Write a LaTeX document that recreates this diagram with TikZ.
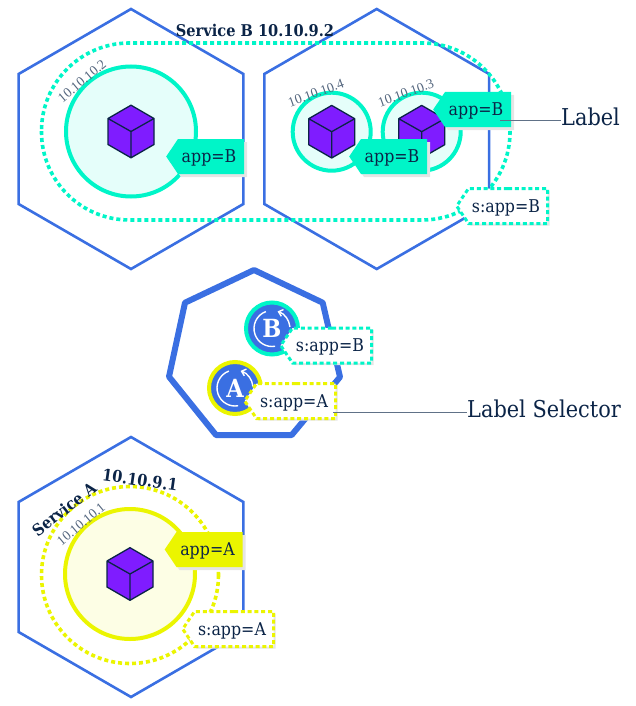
\documentclass[tikz,border=0pt]{standalone}
\usepackage{fontspec}
\setmainfont[FakeStretch=0.9]{DejaVu Serif}
\newfontfamily\ipfont{Liberation Serif}
\usepackage{tikz}
\usetikzlibrary{shapes.symbols,shadows,arrows.meta}
\definecolor{navy}{HTML}{0B2447}
\definecolor{kblue}{HTML}{3A6FE2}
\definecolor{kteal}{HTML}{00F5C8}
\definecolor{kyellow}{HTML}{EBF500}
\definecolor{kpurple}{HTML}{7F1CFF}
\tikzset{
  hexagon/.style={draw=kblue,line width=2.6pt,line join=miter},
  selectline/.style={line width=3.6pt,dash pattern=on 4pt off 3pt},
  pod/.style={circle,line width=4pt,minimum size=#1,inner sep=0pt},
  cubeline/.style={draw=navy,line width=1.3pt,line join=round},
  tag/.style={signal,signal to=west,signal from=nowhere,signal pointer angle=112,
    font=\fontsize{17.6}{17.6}\selectfont\color{navy},inner sep=0pt,
    minimum height=35pt,align=center,text height=12.8pt,text depth=0pt,
    execute at begin node=\hspace*{-4pt}},
  apptag/.style={tag,text width=66pt,fill=#1,copy shadow={shadow xshift=3pt,shadow yshift=-3pt,fill=black!10,draw=none}},
  seltag/.style={tag,text width=79pt,fill=white,draw=#1,line width=3pt,dash pattern=on 4pt off 2.8pt,
    copy shadow={shadow xshift=2pt,shadow yshift=-2pt,fill=black!10,draw=none}},
  iptext/.style={font=\ipfont\fontsize{13.7}{13.7}\selectfont,text=navy!70,inner sep=0pt},
  svctext/.style={font=\fontsize{16.2}{16.2}\selectfont\bfseries,text=navy,inner sep=0pt},
  calltext/.style={font=\fontsize{23.2}{23.2}\selectfont,text=navy,inner sep=0pt},
  deppod/.style={circle,fill=kblue,draw=#1,line width=4pt,minimum size=52pt,inner sep=0pt,
    font=\fontsize{25}{25}\selectfont\bfseries,text=white},
  leader/.style={draw=navy!65,line width=.7pt},
}
\begin{document}
\begin{tikzpicture}[x=1pt,y=-1pt]
  \useasboundingbox (0,0) rectangle (635,706);
  % hexagons
  \foreach \cx/\cy in {131/139, 376.7/139, 131/567}
    \draw[hexagon] (\cx,\cy-130) -- (\cx+112.4,\cy-65) -- (\cx+112.4,\cy+65) -- (\cx,\cy+130)
      -- (\cx-112.4,\cy+65) -- (\cx-112.4,\cy-65) -- cycle;
  % selector paths
  \draw[selectline,draw=kteal,rounded corners=88pt] (41.5,43) rectangle (510,220);
  \draw[selectline,draw=kyellow] (130,575) circle (88.5);
  % pods
  \node[pod=130pt,draw=kteal,fill=kteal!10] (podtwo) at (131,131.5) {};
  \node[pod=78pt,draw=kteal,fill=kteal!10] (podfour) at (331.7,131.7) {};
  \node[pod=78pt,draw=kteal,fill=kteal!10] (podthree) at (421.7,131.7) {};
  \node[pod=130pt,draw=kyellow,fill=kyellow!10] (podone) at (130,574) {};
  \foreach \p in {podtwo,podfour,podthree,podone} {
    \fill[kpurple,shift={(\p.center)}] (0,-26.3) -- (23,-13) -- (23,13) -- (0,26.3) -- (-23,13) -- (-23,-13) -- cycle;
    \draw[cubeline,shift={(\p.center)}] (0,-26.3) -- (23,-13) -- (23,13) -- (0,26.3)
      -- (-23,13) -- (-23,-13) -- cycle (-23,-13) -- (0,0) -- (23,-13) (0,0) -- (0,26.3);
  }
  % pod labels
  \node[iptext,rotate=40] (iptwo) at (82,81) {10.10.10.2};
  \node[iptext,rotate=20] (ipfour) at (316,93) {10.10.10.4};
  \node[iptext,rotate=20] (ipthree) at (406,93) {10.10.10.3};
  \node[iptext,rotate=40] (ipone) at (81,524) {10.10.10.1};
  \node[svctext] (svcb) at (255,30) {Service B 10.10.9.2};
  \node[svctext,rotate=38] (svca) at (64,509) {Service A};
  \node[svctext,rotate=-8] (svcaip) at (140,480) {10.10.9.1};
  \node[apptag=kteal] (tagtwo) at (211,156.5) {app=B};
  \node[apptag=kteal] (tagfour) at (394,156.5) {app=B};
  \node[apptag=kteal] (tagthree) at (478,109.5) {app=B};
  \node[apptag=kyellow] (tagone) at (209.5,549.5) {app=A};
  \node[seltag=kteal] (selb) at (508,206) {s:app=B};
  \node[seltag=kyellow] (sela) at (234,629) {s:app=A};
  % deployment
  \draw[draw=kblue,line width=6pt,line join=round] (254,270) -- (322.7,302.7) -- (340,377) -- (291.7,435)
    -- (216,435) -- (169,376.7) -- (185,302.7) -- cycle;
  \node[deppod=kteal] (depb) at (272,328.5) {B};
  \node[deppod=kyellow] (depa) at (235,388) {A};
  \foreach \d in {depb,depa} {
    \draw[white,line width=1.4pt,shift={(\d.center)}] (-110:18) arc (-110:-280:18);
    \draw[white,line width=1.4pt,-{Straight Barb[length=4pt,width=7pt]},shift={(\d.center)}] (-5:18) arc (-5:-72:18);
  }
  \node[seltag=kteal] (seldb) at (332,345.5) {s:app=B};
  \node[seltag=kyellow] (selda) at (296,401) {s:app=A};
  % callouts
  \node[calltext,anchor=west] (labeltxt) at (561,117) {Label};
  \node[calltext,anchor=west] (selecttxt) at (467,409) {Label Selector};
  \coordinate (labelstart) at (500,120.5);
  \coordinate (selectstart) at (333,412.7);
  \draw[leader] (labelstart) -- (labelstart -| labeltxt.west);
  \draw[leader] (selectstart) -- (selectstart -| selecttxt.west);
\end{tikzpicture}
\end{document}
